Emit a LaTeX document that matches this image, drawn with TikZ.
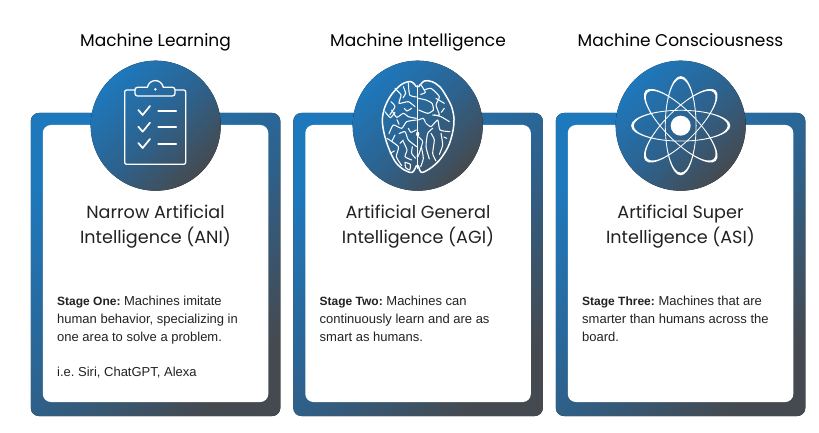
\documentclass[tikz,border=0pt]{standalone}
\usepackage{fontspec}
\setmainfont{Liberation Sans}
\newfontfamily\headfont{Poppins}
\definecolor{gradA}{HTML}{1E78BC}
\definecolor{gradB}{HTML}{2C6390}
\definecolor{gradC}{HTML}{454A50}
\definecolor{inkdark}{HTML}{222222}
\pgfdeclarehorizontalshading{cardgrad}{100bp}{color(0bp)=(gradA);color(25bp)=(gradA);color(50bp)=(gradB);color(75bp)=(gradC);color(100bp)=(gradC)}
\tikzset{
  x=1pt,y=-1pt,
  framebox/.style={rounded corners=8pt,shading=cardgrad,shading angle=-45},
  discbox/.style={shading=cardgrad,shading angle=-45},
  panel/.style={fill=white,rounded corners=8pt},
  toptitle/.style={font=\headfont\fontsize{17}{20}\selectfont,text=black,anchor=base,inner sep=0pt},
  cardtitle/.style={font=\headfont\fontsize{17.6}{21}\selectfont,text=inkdark,anchor=base,inner sep=0pt},
  bodytext/.style={font=\frenchspacing\fontsize{13}{15}\selectfont,text=inkdark,anchor=base west,inner sep=0pt},
  icon/.style={draw=white,line width=1.3pt,line cap=round,line join=round},
  sulcus/.style={draw=white,line width=1.05pt,line cap=round,line join=round},
  lobe/.style={draw=white,line width=1.5pt,line cap=round,line join=round},
  traced/.style={x=.33333pt,y=-.33333pt},
}
\newcommand{\stagecard}[2]{%
  \fill[framebox] (#1,113) rectangle ++(249.5,303);
  \fill[panel] (#1+12,125) rectangle ++(225.5,277);
  \fill[discbox] (#2,125.7) circle[radius=65];
}
\newcommand{\stagelabel}[1]{{\bfseries\fontsize{12}{15}\selectfont #1}}
\newcommand{\wig}[1]{\draw[sulcus] plot[smooth,tension=.35] coordinates {#1};}
% orbit band: thick at the tips and thin along the long sides
\newcommand{\orbitring}[1]{%
  \fill[white,even odd rule,rotate around={#1:(680.7,125.7)}]
    (680.7,125.7) ellipse[x radius=49.6,y radius=15.8]
    (680.7,125.7) ellipse[x radius=47,y radius=15];
}
\begin{document}
\begin{tikzpicture}
\useasboundingbox (0,0) rectangle (819,433);
\fill[white] (0,0) rectangle (819,433);

\stagecard{30.8}{155.7}
\stagecard{293.3}{417.7}
\stagecard{555.8}{680.7}

% top titles
\node[toptitle] (titleA) at (155.5,47) {Machine Learning};
\node[toptitle] (titleB) at (418,47) {Machine Intelligence};
\node[toptitle] (titleC) at (680.5,47) {Machine Consciousness};

% card headings
\node[cardtitle] (headA1) at (155.5,218) {Narrow Artificial};
\node[cardtitle] (headA2) at (155.5,243.5) {Intelligence (ANI)};
\node[cardtitle] (headB1) at (418,218) {Artificial General};
\node[cardtitle] (headB2) at (418,243.5) {Intelligence (AGI)};
\node[cardtitle] (headC1) at (680.5,218) {Artificial Super};
\node[cardtitle] (headC2) at (680.5,243.5) {Intelligence (ASI)};

% descriptions
\node[bodytext] (bodyA1) at (57,305) {\stagelabel{Stage One:} Machines imitate};
\node[bodytext] (bodyA2) at (57,323) {human behavior, specializing in};
\node[bodytext] (bodyA3) at (57,341) {one area to solve a problem.};
\node[bodytext] (bodyA4) at (57,376) {i.e. Siri, ChatGPT, Alexa};
\node[bodytext] (bodyB1) at (319.5,305) {\stagelabel{Stage Two:} Machines can};
\node[bodytext] (bodyB2) at (319.5,323) {continuously learn and are as};
\node[bodytext] (bodyB3) at (319.5,341) {smart as humans.};
\node[bodytext] (bodyC1) at (582,305) {\stagelabel{Stage Three:} Machines that are};
\node[bodytext] (bodyC2) at (582,323) {smarter than humans across the};
\node[bodytext] (bodyC3) at (582,341) {board.};

% clipboard icon
\begin{scope}[shift={(120,75)},traced]
  \draw[icon,rounded corners=2pt] (45,45) -- (14,45) -- (14,268) -- (197,268) -- (197,45) -- (165,45);
  \draw[icon,rounded corners=2.5pt] (82,37) -- (45,37) -- (45,63) -- (165,63) -- (165,37) -- (130,37);
  \draw[icon] (82,37) .. controls (88,10) and (124,10) .. (130,37);
  \fill[white] (106,43) circle[radius=4];
  \foreach \dy in {0,50,99}{
    \draw[icon,line width=1.7pt] (55,105+\dy) -- (68,120+\dy) -- (90,93+\dy);
    \draw[icon,line width=2.2pt] (115,107+\dy) -- (168,107+\dy);
  }
\end{scope}

% brain icon, left hemisphere
\begin{scope}[shift={(375,75)},traced]
  \draw[lobe] plot[smooth,tension=.55] coordinates {(124,35) (108,20) (80,28) (50,58) (30,95) (22,135) (28,178) (42,222) (62,262) (88,285) (112,292) (124,272)};
  \wig{(60,40) (78,60) (72,85) (100,80) (120,95)}
  \wig{(100,24) (104,60) (124,66)}
  \wig{(85,35) (92,55) (84,68)}
  \wig{(48,80) (60,95) (44,120)}
  \wig{(30,110) (46,128) (60,112)}
  \wig{(124,130) (100,125) (85,115) (65,127) (50,105)}
  \wig{(110,100) (96,108) (88,100)}
  \wig{(124,135) (95,140) (80,160) (55,150) (42,176)}
  \wig{(66,134) (72,148)}
  \wig{(125,215) (100,195) (90,170) (72,176)}
  \wig{(124,165) (108,172) (100,160)}
  \wig{(85,200) (96,225) (90,245) (110,255)}
  \wig{(36,190) (70,215) (64,245) (80,272)}
  \wig{(90,262) (106,268) (104,285) (92,278) (90,262)}
  \wig{(60,180) (50,200)}
  \wig{(45,235) (58,228)}
  \wig{(112,215) (110,235) (122,250)}
  \wig{(75,205) (85,195)}
\end{scope}

% brain icon, right hemisphere and midline
\begin{scope}[shift={(416,75)},traced]
  \draw[lobe] (5,32) -- (5,280);
  \draw[lobe] plot[smooth,tension=.55] coordinates {(8,35) (25,18) (48,20) (72,36) (92,66) (107,96) (114,132) (110,172) (96,216) (70,256) (40,282) (16,292) (7,272)};
  \wig{(7,70) (30,75) (48,85) (52,105) (35,115) (8,105)}
  \wig{(25,45) (45,40) (70,65) (60,90) (70,120) (50,120)}
  \wig{(15,30) (28,52) (14,58)}
  \wig{(55,120) (75,125) (100,140)}
  \wig{(85,100) (76,112)}
  \wig{(30,145) (45,155) (65,135) (72,165) (102,170)}
  \wig{(50,160) (35,175) (30,215) (40,252)}
  \wig{(7,185) (20,200) (8,240)}
  \wig{(45,175) (55,195) (50,235) (60,258)}
  \wig{(75,175) (80,210) (70,238)}
  \wig{(60,70) (85,85)}
  \wig{(7,135) (22,130) (28,142)}
  \wig{(16,215) (22,250) (14,275)}
  \wig{(92,190) (84,186)}
\end{scope}
\fill[white] (417.7,156) circle[radius=1.3];
\fill[white] (417.7,134) ellipse[x radius=1.6,y radius=2.4];

% atom icon
\orbitring{0}
\orbitring{45}
\orbitring{90}
\orbitring{135}
\fill[white] (680.7,125.7) circle[radius=10];
\end{tikzpicture}
\end{document}
